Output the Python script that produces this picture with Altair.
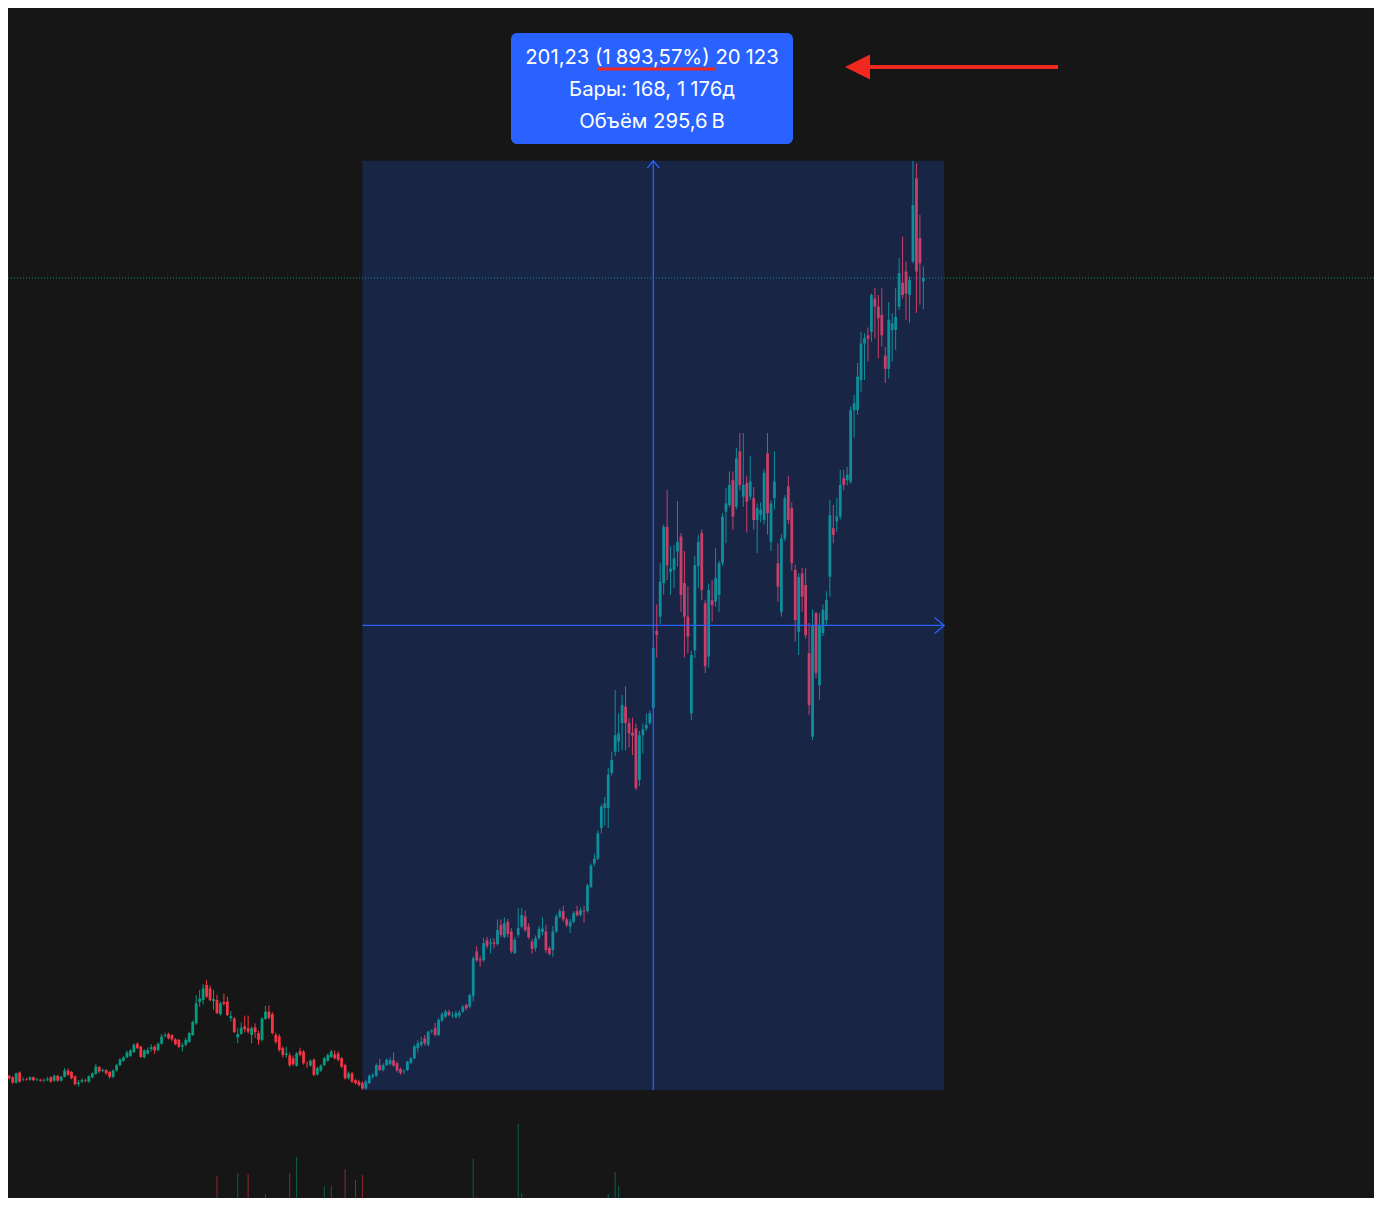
import altair as alt
import pandas as pd

# ---------------- data (weekly candles) ----------------
opens = [13.3,13.0,12.7,11.6,13.7,12.2,12.3,12.2,12.7,12.2,
12.2,12.0,12.1,12.7,12.0,13.0,12.0,12.8,14.1,13.8,
12.9,11.3,11.8,12.1,11.8,12.7,13.4,14.8,14.0,14.2,
13.8,12.8,14.1,15.2,16.1,16.8,17.1,17.9,19.6,19.0,
16.8,17.6,18.5,19.0,18.3,19.6,21.2,21.6,21.4,20.5,
20.4,19.0,19.4,20.0,21.4,23.8,28.2,28.6,31.7,31.0,
28.4,28.6,25.7,28.2,28.3,24.9,24.8,20.9,21.6,23.2,
22.8,21.4,23.0,21.8,20.4,24.7,26.2,25.7,21.4,21.1,
18.7,17.3,17.2,16.6,15.1,18.1,18.0,15.5,15.1,16.3,
13.3,14.1,15.2,16.1,16.9,17.4,17.6,16.6,15.2,12.5,
13.5,12.1,11.8,11.5,10.4,11.5,12.8,13.0,15.2,14.2,
15.2,15.4,16.2,15.6,14.4,13.8,14.2,15.7,16.6,18.7,
19.4,20.7,19.4,22.1,22.8,21.4,24.4,25.2,26.2,25.3,
25.1,25.4,26.2,27.6,27.2,29.4,38.6,37.0,36.8,40.9,
40.2,40.5,40.1,44.0,41.6,44.7,42.7,38.3,42.0,43.7,
45.8,43.7,40.6,39.3,41.3,42.6,42.7,39.3,38.9,42.7,
45.7,46.9,45.2,43.7,44.7,46.9,46.1,47.0,46.9,51.9,
56.7,57.7,64.0,68.1,68.1,75.3,79.7,81.8,85.6,89.0,
85.6,83.6,84.5,73.9,83.1,84.5,85.6,88.7,104.6,107.5,
114.4,126.0,116.7,117.1,120.9,124.0,114.4,107.5,87.6,100.6,
117.9,124.7,110.3,99.3,110.9,110.6,112.0,118.5,129.1,130.5,
135.6,130.1,141.5,132.2,135.0,132.2,131.9,127.4,128.5,127.4,
141.1,122.9,131.9,118.5,108.5,123.6,134.3,129.8,117.1,104.4,
116.4,114.0,100.0,82.8,108.2,93.4,104.1,106.8,115.7,125.7,
127.1,128.1,136.0,135.6,135.3,150.0,150.0,156.2,163.7,165.4,
166.1,173.0,171.3,169.6,161.2,158.5,166.5,166.5,171.3,176.2,
178.5,173.7,180.6,197.7,185.4,176.5]

highs = [13.6,13.2,12.9,13.7,13.9,12.7,12.6,12.9,12.9,12.6,
12.4,12.5,12.8,12.9,13.3,13.2,13.0,14.6,14.5,14.0,
13.1,12.1,12.5,12.4,13.1,13.7,15.5,15.0,14.5,14.4,
14.0,14.3,15.4,16.6,17.0,18.2,18.5,19.7,19.9,19.2,
18.5,18.8,19.5,19.3,19.9,21.6,21.9,21.9,21.6,20.8,
20.6,19.8,20.8,22.1,24.4,29.6,30.7,31.9,32.7,31.6,
30.7,29.7,28.3,29.9,29.3,26.3,25.1,22.8,24.0,25.4,
25.4,23.2,23.8,22.3,25.1,27.4,27.5,26.1,21.9,21.6,
19.1,19.0,17.8,17.2,17.9,18.8,18.3,16.0,16.4,16.6,
14.9,15.4,16.9,17.6,18.4,18.2,18.0,16.9,15.5,13.9,
13.8,12.4,12.2,11.9,12.2,13.3,13.6,15.6,16.5,15.6,
16.6,16.8,17.8,15.9,14.7,14.3,16.1,16.9,19.4,20.3,
21.0,21.4,22.3,22.6,23.9,24.9,26.1,26.6,26.6,26.2,
26.4,26.5,27.6,27.9,29.9,37.6,39.7,37.7,41.4,41.6,
41.3,41.3,45.2,45.2,45.6,45.3,43.4,41.6,47.5,47.5,
47.0,44.4,41.2,41.9,43.8,45.6,44.1,39.7,43.8,46.3,
47.4,48.0,45.6,45.3,46.9,48.0,47.7,48.0,52.5,56.7,
58.7,63.5,68.9,70.4,76.4,79.7,92.4,87.6,91.4,93.2,
86.6,86.7,85.5,84.0,85.5,87.6,88.2,101.5,110.0,118.5,
126.5,133.6,122.0,122.2,131.3,124.7,121.0,113.8,100.5,120.0,
124.3,125.4,111.0,114.3,115.0,121.6,119.0,128.8,133.9,137.4,
137.4,142.2,145.3,145.3,136.5,140.5,134.2,130.8,131.0,137.8,
145.3,131.5,141.5,122.6,124.5,132.5,136.4,131.0,118.2,116.5,
117.5,117.5,106.2,109.0,108.5,108.2,110.0,112.7,131.5,130.5,
131.9,137.7,137.7,138.3,150.8,153.1,159.7,166.1,165.8,167.0,
174.0,175.1,173.7,175.1,163.0,172.2,170.0,175.1,181.3,185.7,
180.6,177.5,201.3,200.8,190.2,179.6]

lows = [12.9,12.3,11.4,11.4,11.6,11.9,12.0,12.0,11.9,11.9,
11.8,11.7,11.9,11.6,11.8,11.8,11.8,12.6,13.0,12.3,
11.0,10.8,11.5,11.7,11.6,12.5,13.2,13.6,13.8,13.2,
12.4,12.5,13.9,15.0,15.9,16.6,16.9,17.7,18.5,16.7,
16.6,17.4,18.0,17.5,18.0,19.4,20.9,20.5,20.1,19.3,
18.7,18.0,19.1,19.8,21.2,23.5,27.2,27.7,29.0,28.3,
26.6,25.7,25.4,27.5,25.3,24.2,21.8,19.7,21.5,21.9,
21.7,19.7,20.8,19.4,20.1,24.5,24.6,21.5,19.6,18.0,
16.8,16.7,14.8,15.0,14.9,17.0,15.3,14.6,14.9,12.9,
13.0,13.8,15.0,15.9,16.7,16.4,16.0,14.6,12.2,12.2,
11.5,11.2,10.8,10.09,10.2,11.3,12.4,12.8,14.0,13.9,
15.0,15.1,14.9,13.7,13.2,13.4,14.0,15.4,16.4,17.8,
19.0,19.2,19.1,21.7,21.1,21.1,24.1,24.9,25.3,24.9,
24.8,24.9,25.9,26.5,26.9,28.3,36.4,35.4,36.5,39.2,
38.2,39.2,39.8,41.5,41.3,41.5,38.2,38.0,41.5,43.4,
42.6,41.2,38.1,38.6,41.0,41.9,38.3,37.8,37.5,42.4,
45.4,44.7,43.6,42.4,44.4,45.8,45.8,44.5,46.6,51.6,
56.1,57.4,62.9,64.5,64.0,74.8,78.8,79.6,80.0,80.0,
80.6,79.0,71.8,72.6,79.3,84.0,85.2,88.4,99.1,106.0,
112.0,115.0,112.0,113.4,117.8,108.5,99.1,100.0,86.2,99.0,
113.4,110.9,95.9,97.0,106.5,109.5,108.5,118.0,122.6,130.0,
125.4,129.6,133.5,130.1,124.8,131.5,125.4,120.6,126.9,126.5,
124.4,121.0,129.5,110.6,107.5,123.0,126.5,117.0,102.4,99.6,
108.5,103.0,87.3,82.1,94.8,90.4,103.5,105.8,111.6,122.6,
125.0,127.5,133.5,134.5,134.8,144.3,149.0,153.7,156.2,160.0,
164.1,164.8,160.7,163.1,155.6,156.5,160.0,162.4,170.6,173.0,
168.6,167.9,180.2,170.0,171.7,170.8]

closes = [13.1,12.5,11.6,13.5,11.8,12.3,12.2,12.7,12.1,12.3,
12.0,12.1,12.3,11.8,13.0,12.0,12.8,14.1,13.2,12.5,
11.3,11.6,12.1,12.0,12.9,13.5,14.9,13.9,14.2,13.5,
12.8,14.1,15.2,16.4,16.8,17.8,18.2,19.4,18.7,16.9,
18.2,18.3,18.9,18.2,19.6,21.1,21.4,20.7,20.5,19.5,
19.0,19.3,20.4,21.8,24.1,27.9,28.9,31.0,29.3,28.6,
28.8,25.9,27.9,27.8,25.5,25.3,22.0,21.6,22.9,22.6,
22.1,22.8,22.0,20.4,24.8,26.2,24.9,21.8,20.0,18.3,
17.3,17.6,15.2,15.4,17.6,17.3,15.6,15.4,16.1,13.2,
14.6,15.1,16.6,17.3,18.0,16.6,16.3,14.9,12.5,13.5,
11.8,11.5,11.1,10.4,11.8,13.0,13.2,15.2,14.2,15.2,
16.3,16.2,15.1,14.1,13.6,13.9,15.9,16.6,19.1,19.7,
20.0,19.7,22.1,22.3,21.4,24.5,25.7,26.2,25.5,25.4,
25.9,26.0,27.2,26.9,29.6,37.2,36.8,36.7,40.3,39.7,
40.4,40.2,43.0,42.0,44.4,42.2,38.6,41.0,43.4,46.1,
43.0,41.5,39.1,41.3,43.2,43.3,38.9,38.1,42.7,45.8,
46.9,45.2,44.0,44.7,46.5,46.0,47.1,46.8,52.2,56.3,
57.7,62.9,68.4,69.1,75.0,78.0,83.1,83.5,89.3,85.6,
83.5,83.0,72.2,83.1,84.3,85.2,87.6,101.0,103.7,114.7,
126.0,118.1,117.4,119.5,122.9,112.0,107.5,103.4,99.6,118.1,
122.9,113.0,97.3,113.0,109.9,115.4,118.5,128.1,130.8,134.6,
128.1,140.1,134.6,134.6,131.2,135.3,127.4,129.8,129.5,137.1,
128.8,130.8,135.3,113.7,123.6,131.9,127.4,118.5,106.8,115.7,
111.6,103.7,89.3,105.8,95.9,105.8,108.9,110.9,128.4,124.3,
128.1,134.6,134.6,136.7,150.0,151.4,156.9,163.7,164.8,164.7,
173.7,171.3,168.9,165.4,158.5,168.6,167.9,169.2,178.2,173.7,
174.0,176.8,192.2,178.5,180.2,177.2]

# volume (only the spikes that reach into view)
vol_bar = [61, 67, 70, 75, 81, 82, 83, 84, 92, 94, 98, 100, 101, 102, 103, 105, 108,
           135, 136, 138, 143, 147, 148, 149, 168, 174, 176, 177]
vol_val = [1280, 1340, 1320, 920, 800, 1340, 840, 1660, 1080, 1080, 1420, 800, 1200, 760, 1300, 840, 740,
           1620, 860, 800, 840, 720, 2320, 940, 700, 920, 1360, 1080]

# measurement tool
measure_start = 103
measure_bars = 168
measure_lines = ["201,23 (1\u2005893,57%) 20\u2005123",
                 "Бары: 168, 1\u2005176д",
                 "Объём 295,6\u2009B"]

# ---------------- styling ----------------
W, H = 1366, 1190
BG = "#161616"
UP = "#089981"
DOWN = "#f23645"
BLUE = "#2962ff"
ARROW = "#f0281e"
FONT = "Inter"

df = pd.DataFrame({"i": list(range(len(opens))), "open": opens, "high": highs,
                   "low": lows, "close": closes})
df["dir"] = ["up" if c >= o else "down" for o, c in zip(opens, closes)]

vdf = pd.DataFrame({"i": vol_bar, "vol": vol_val})
vdf["dir"] = [df.loc[k, "dir"] for k in vol_bar]

xs = alt.Scale(domain=[2.093, 393.7], nice=False, zero=False)
ys = alt.Scale(domain=[-12.14, 232.76], nice=False, zero=False)
vs = alt.Scale(domain=[840, 24640], nice=False, zero=False)
col = alt.Color("dir:N", scale=alt.Scale(domain=["up", "down"], range=[UP, DOWN]), legend=None)
X = alt.X("i:Q", scale=xs, axis=None)

wicks = alt.Chart(df).mark_rule(strokeWidth=1, clip=True).encode(
    x=X, y=alt.Y("low:Q", scale=ys, axis=None), y2="high:Q", color=col)
bodies = alt.Chart(df).mark_bar(size=2.8, clip=True).encode(
    x=X, y=alt.Y("open:Q", scale=ys, axis=None), y2="close:Q", color=col)

volume = alt.Chart(vdf).mark_rule(strokeWidth=1, opacity=0.55, clip=True).encode(
    x=X, y=alt.Y("vol:Q", scale=vs, axis=None), y2=alt.datum(0), color=col)

last = pd.DataFrame({"p": [closes[-1]]})
price_line = alt.Chart(last).mark_rule(color=UP, strokeWidth=1, strokeDash=[1, 2]).encode(
    y=alt.Y("p:Q", scale=ys, axis=None), x=alt.value(0), x2=alt.value(W))

x0 = measure_start
x1 = measure_start + measure_bars
y0 = lows[measure_start]
y1 = max(highs[measure_start:])
box_df = pd.DataFrame({"x0": [x0], "x1": [x1], "y0": [y0], "y1": [y1],
                       "xm": [(x0 + x1) / 2], "ym": [(y0 + y1) / 2]})

box = alt.Chart(box_df).mark_rect(color=BLUE, opacity=0.2).encode(
    x=alt.X("x0:Q", scale=xs, axis=None), x2="x1:Q",
    y=alt.Y("y0:Q", scale=ys, axis=None), y2="y1:Q")
vline = alt.Chart(box_df).mark_rule(color=BLUE, strokeWidth=1.3).encode(
    x=alt.X("xm:Q", scale=xs, axis=None), y=alt.Y("y0:Q", scale=ys, axis=None), y2="y1:Q")
hline = alt.Chart(box_df).mark_rule(color=BLUE, strokeWidth=1.3).encode(
    y=alt.Y("ym:Q", scale=ys, axis=None), x=alt.X("x0:Q", scale=xs, axis=None), x2="x1:Q")
up_head = alt.Chart(box_df).mark_point(shape="M-1,1.2L0,0L1,1.2", filled=False, size=144,
                                       color=BLUE, strokeWidth=1.3, opacity=1).encode(
    x=alt.X("xm:Q", scale=xs, axis=None), y=alt.Y("y1:Q", scale=ys, axis=None))
right_head = alt.Chart(box_df).mark_point(shape="M-1.2,-1L0,0L-1.2,1", filled=False, size=256,
                                          color=BLUE, strokeWidth=1.3, opacity=1).encode(
    x=alt.X("x1:Q", scale=xs, axis=None), y=alt.Y("ym:Q", scale=ys, axis=None))

one = pd.DataFrame({"k": [0]})
tip_box = alt.Chart(one).mark_rect(color=BLUE, cornerRadius=6).encode(
    x=alt.value(503), x2=alt.value(785), y=alt.value(25), y2=alt.value(136))
tip_texts = [
    alt.Chart(one).mark_text(align="center", baseline="middle", font=FONT, fontSize=20.3,
                             color="white").encode(
        x=alt.value(644), y=alt.value(yy), text=alt.value(t))
    for t, yy in zip(measure_lines, [50, 82, 114])
]
underline = alt.Chart(one).mark_rule(color=ARROW, strokeWidth=3).encode(
    x=alt.value(589), x2=alt.value(707), y=alt.value(61))
arrow_line = alt.Chart(one).mark_rule(color=ARROW, strokeWidth=4).encode(
    x=alt.value(858), x2=alt.value(1050), y=alt.value(59))
arrow_head = alt.Chart(one).mark_point(shape="M-1,0L1,-1L1,1Z", filled=True, size=625,
                                       color=ARROW, opacity=1, strokeWidth=0).encode(
    x=alt.value(849.5), y=alt.value(59))

chart = alt.layer(
    volume, price_line, wicks, bodies, box, vline, hline, up_head, right_head,
    tip_box, *tip_texts, underline, arrow_line, arrow_head
).resolve_scale(y="independent").properties(
    width=W, height=H, autosize=alt.AutoSizeParams(type="none"), padding=0,
    background=BG
).configure_view(stroke=None)

chart.save("out.html", embed_options={"renderer": "svg", "actions": False})
